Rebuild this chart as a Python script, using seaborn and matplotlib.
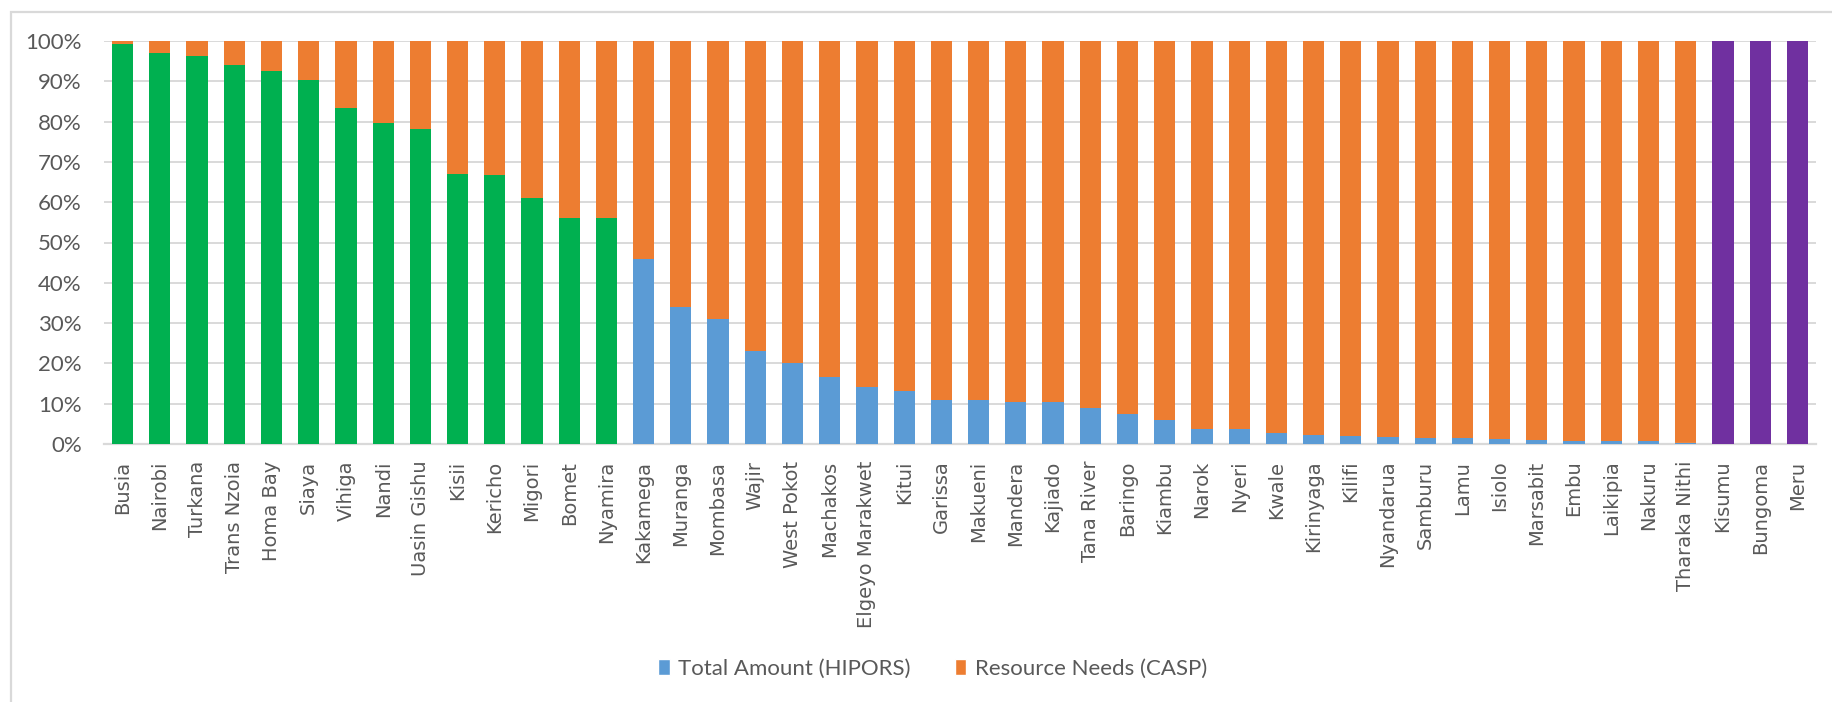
import matplotlib
matplotlib.use("Agg")
import matplotlib.pyplot as plt
from matplotlib.patches import Patch, Rectangle
import seaborn as sns
import pandas as pd

# Counties, ordered by HIPORS share of the CASP resource needs
counties = [
    "Busia", "Nairobi", "Turkana", "Trans Nzoia", "Homa Bay", "Siaya", "Vihiga",
    "Nandi", "Uasin Gishu", "Kisii", "Kericho", "Migori", "Bomet", "Nyamira",
    "Kakamega", "Muranga", "Mombasa", "Wajir", "West Pokot", "Machakos",
    "Elgeyo Marakwet", "Kitui", "Garissa", "Makueni", "Mandera", "Kajiado",
    "Tana River", "Baringo", "Kiambu", "Narok", "Nyeri", "Kwale", "Kirinyaga",
    "Kilifi", "Nyandarua", "Samburu", "Lamu", "Isiolo", "Marsabit", "Embu",
    "Laikipia", "Nakuru", "Tharaka Nithi", "Kisumu", "Bungoma", "Meru",
]

# Total Amount (HIPORS) as % of each county's bar
hipors_share = [
    99.3, 96.9, 96.2, 94.1, 92.6, 90.2, 83.4, 79.6, 78.1, 67.1, 66.7, 61.0,
    56.2, 56.1, 45.9, 33.9, 31.1, 23.2, 20.0, 16.7, 14.1, 13.1, 11.0, 10.8,
    10.5, 10.3, 9.0, 7.5, 6.0, 3.8, 3.6, 2.8, 2.3, 2.1, 1.7, 1.6, 1.4, 1.3,
    1.1, 0.8, 0.75, 0.7, 0.2, 100.0, 100.0, 100.0,
]

# Full 100% stack (Resource Needs (CASP) fills what HIPORS leaves)
stack_total = [100.0] * len(counties)

# Coverage band of each county
coverage_band = ["above 50%"] * 14 + ["below 50%"] * 29 + ["complete"] * 3

band_colors = {"above 50%": "#00B050", "below 50%": "#5B9BD5", "complete": "#7030A0"}
casp_color = "#ED7D31"
text_color = "#595959"
grid_color = "#D9D9D9"

df = pd.DataFrame({
    "county": counties,
    "hipors": hipors_share,
    "total": stack_total,
    "band": coverage_band,
})

sns.set_style("white")
plt.rcParams["font.family"] = ["DejaVu Sans"]

W, H = 1832, 702
fig = plt.figure(figsize=(W / 100, H / 100), dpi=100)
ax = fig.add_axes([104 / W, 1 - 444 / H, (1816 - 104) / W, (444 - 41) / H])

bar_w = 0.57
sns.barplot(data=df, x="county", y="total", order=counties, color=casp_color,
            saturation=1, width=bar_w, errorbar=None, linewidth=0, ax=ax, zorder=2)
sns.barplot(data=df, x="county", y="hipors", order=counties, hue="band",
            hue_order=list(band_colors), palette=band_colors, dodge=False,
            saturation=1, width=bar_w, errorbar=None, linewidth=0, legend=False,
            ax=ax, zorder=3)

ax.set_xlim(-0.5, len(counties) - 0.5)
ax.set_ylim(0, 100)
ax.set_yticks(range(0, 101, 10))
ax.set_yticklabels([f"{v}%" for v in range(0, 101, 10)])
ax.set_xlabel("")
ax.set_ylabel("")

ax.yaxis.grid(True, color=grid_color, linewidth=1.4, zorder=0)
ax.set_axisbelow(True)
for side in ["top", "right", "left"]:
    ax.spines[side].set_visible(False)
ax.spines["bottom"].set_color(grid_color)
ax.spines["bottom"].set_linewidth(1.6)

ax.tick_params(axis="y", length=0, pad=16, labelcolor=text_color)
ax.tick_params(axis="x", length=0, pad=12, labelcolor=text_color)
for lbl in ax.get_yticklabels():
    lbl.set_fontfamily(["Lato", "DejaVu Sans"])
    lbl.set_fontsize(16)
for lbl in ax.get_xticklabels():
    lbl.set_rotation(90)
    lbl.set_fontsize(14)
    lbl.set_fontfamily(["DejaVu Sans"])

handles = [Patch(facecolor="#5B9BD5", label="Total Amount (HIPORS)"),
           Patch(facecolor=casp_color, label="Resource Needs (CASP)")]
fig.legend(handles=handles, loc="center", bbox_to_anchor=(933 / W, 1 - 669 / H),
           ncol=2, frameon=False, handlelength=0.5, handleheight=0.7,
           handletextpad=0.4, columnspacing=2.0,
           prop={"family": ["Lato", "DejaVu Sans"], "size": 16},
           labelcolor=text_color)

# Light chart-area frame
fig.add_artist(Rectangle((11 / W, -0.1), 1.2, 0.1 + 1 - 12 / H, transform=fig.transFigure,
                         fill=False, edgecolor=grid_color, linewidth=1.6))

fig.savefig("out.png", dpi=100, facecolor="white")
